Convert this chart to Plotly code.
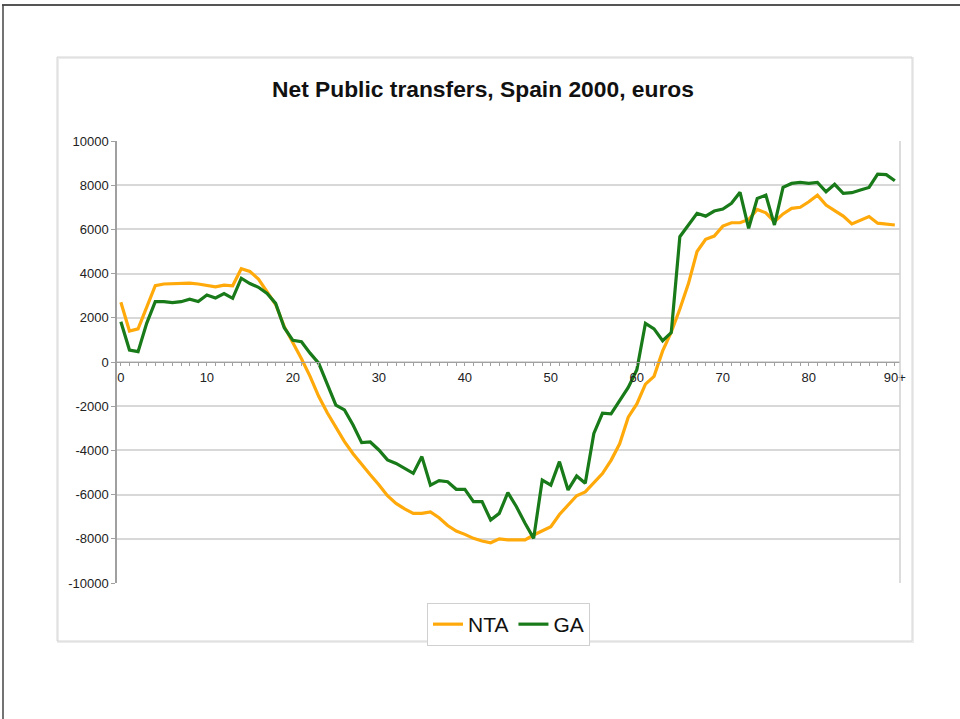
import plotly.graph_objects as go

# ---------------- data ----------------
ages = list(range(0, 91))
x_tick_labels = ["0", "10", "20", "30", "40", "50", "60", "70", "80", "90+"]
y_ticks = [-10000, -8000, -6000, -4000, -2000, 0, 2000, 4000, 6000, 8000, 10000]

nta = [2700, 1400, 1500, 2500, 3450, 3530, 3550, 3550, 3570, 3530,
       3480, 3400, 3480, 3450, 4220, 4100, 3750, 3150, 2600, 1600,
       900, 150, -650, -1550, -2300, -2950, -3600, -4150, -4650, -5100,
       -5550, -6050, -6400, -6650, -6850, -6850, -6780, -7050, -7400, -7650,
       -7800, -7980, -8100, -8180, -8000, -8050, -8050, -8050, -7830, -7650,
       -7450, -6900, -6450, -6050, -5880, -5450, -5050, -4450, -3700, -2500,
       -1900, -1000, -650, 500, 1350, 2400, 3550, 5000, 5550, 5700,
       6150, 6300, 6300, 6450, 6900, 6750, 6350, 6700, 6950, 7000,
       7250, 7550, 7100, 6850, 6600, 6250, 6400, 6580, 6280, 6250,
       6200]

ga = [1820, 540, 470, 1750, 2730, 2730, 2690, 2730, 2840, 2740,
      3030, 2900, 3100, 2880, 3790, 3550, 3380, 3100, 2650, 1550,
      980, 920, 400, -50, -1000, -1950, -2170, -2850, -3650, -3620,
      -3980, -4430, -4590, -4810, -5040, -4280, -5570, -5370, -5420, -5760,
      -5760, -6320, -6320, -7150, -6850, -5910, -6550, -7300, -7980, -5340,
      -5570, -4510, -5790, -5160, -5490, -3230, -2320, -2350, -1720, -1150,
      -350, 1750, 1500, 960, 1330, 5670, 6200, 6730, 6600, 6830,
      6920, 7180, 7680, 6050, 7400, 7550, 6200, 7900, 8080, 8130,
      8080, 8130, 7700, 8040, 7630, 7660, 7780, 7900, 8500, 8480,
      8200]

# ---------------- layout helpers ----------------
W, H = 960, 719
PL, PR, PT, PB = 117, 900, 141, 583


def px_x(px):
    return (px - PL) / (PR - PL)


def px_y(py):
    return (PB - py) / (PB - PT)


FONT = "Liberation Sans, Arial, Helvetica, sans-serif"
ORANGE = "#FFA90A"
GREEN = "#187A18"

fig = go.Figure()
fig.add_trace(go.Scatter(x=ages, y=nta, mode="lines", name="NTA",
                         line=dict(color=ORANGE, width=3.2)))
fig.add_trace(go.Scatter(x=ages, y=ga, mode="lines", name="GA",
                         line=dict(color=GREEN, width=3.2)))

tickvals_x = ages
ticktext_x = [x_tick_labels[a // 10] if a % 10 == 0 else "" for a in ages]

fig.update_layout(
    width=W, height=H,
    margin=dict(l=PL, r=W - PR, t=PT, b=H - PB, pad=0),
    paper_bgcolor="white", plot_bgcolor="white",
    font=dict(family=FONT, color="#222"),
    showlegend=True,
    legend=dict(orientation="h", x=px_x(508.5), xanchor="center",
                y=px_y(603), yanchor="top",
                font=dict(size=21, family=FONT, color="#111"),
                bordercolor="#d0d0d0", borderwidth=1, bgcolor="white",
                itemwidth=30, traceorder="normal"),
    xaxis=dict(range=[-0.45, 90.6], anchor="free", position=0.5,
               showline=True, linecolor="#a0a0a0", linewidth=1,
               ticks="outside", ticklen=3, tickcolor="#a0a0a0", tickwidth=1,
               tickvals=tickvals_x, ticktext=ticktext_x,
               showgrid=False, zeroline=False,
               tickfont=dict(size=13, family=FONT, color="#222")),
    yaxis=dict(range=[-10000, 10000], tickvals=y_ticks,
               ticktext=[str(v) for v in y_ticks],
               showgrid=True, gridcolor="#d8d8d8", gridwidth=1.5,
               showline=True, linecolor="#a0a0a0", linewidth=1.5,
               ticks="outside", ticklen=4, tickcolor="#a0a0a0",
               zeroline=False,
               tickfont=dict(size=13, family=FONT, color="#222")),
)

shapes = [
    # plot area right edge
    dict(type="line", xref="paper", yref="paper", x0=1, x1=1, y0=0, y1=1,
         line=dict(color="#d0d0d0", width=1.5)),
    # chart box shadow
    dict(type="rect", xref="paper", yref="paper",
         x0=px_x(58), x1=px_x(913), y0=px_y(642), y1=px_y(58),
         line=dict(color="#ececec", width=2)),
    # chart box
    dict(type="rect", xref="paper", yref="paper",
         x0=px_x(57), x1=px_x(912), y0=px_y(641), y1=px_y(57),
         line=dict(color="#d6d6d6", width=1)),
    # page frame top and left
    dict(type="line", xref="paper", yref="paper",
         x0=px_x(2), x1=px_x(960), y0=px_y(5), y1=px_y(5),
         line=dict(color="#555", width=2)),
    dict(type="line", xref="paper", yref="paper",
         x0=px_x(3), x1=px_x(3), y0=px_y(5), y1=px_y(719),
         line=dict(color="#444", width=1.5)),
]
fig.update_layout(shapes=shapes)

fig.add_annotation(text="<b>Net Public transfers, Spain 2000, euros</b>",
                   xref="paper", yref="paper", x=px_x(483), y=px_y(89),
                   xanchor="center", yanchor="middle", showarrow=False,
                   font=dict(size=22.8, family=FONT, color="#111"))

fig.write_html("out.html", config={"displayModeBar": False},
               post_script="document.body.style.margin='0';"
                           "document.body.style.padding='0';")
